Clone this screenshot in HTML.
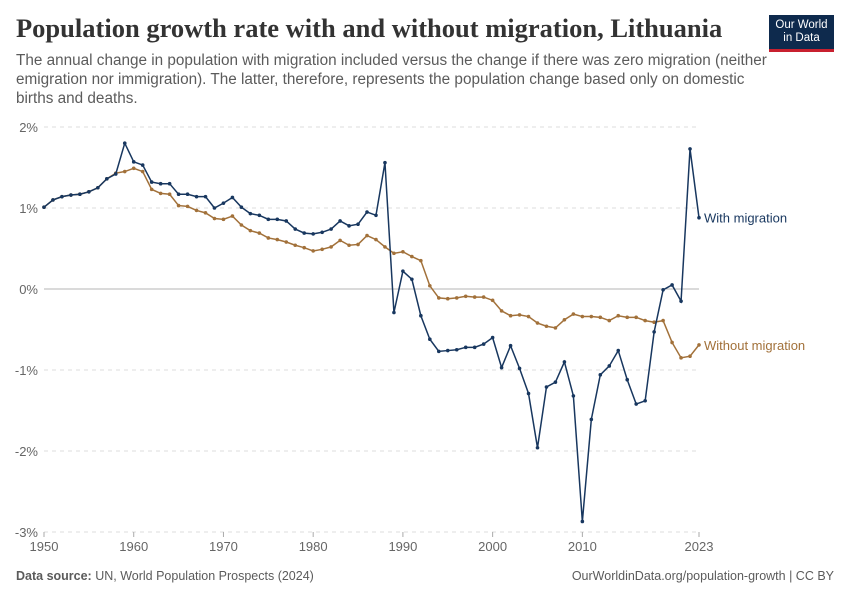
<!DOCTYPE html>
<html><head><meta charset="utf-8"><style>
body{margin:0;background:#fff;width:850px;height:600px;overflow:hidden;font-family:"Liberation Sans",sans-serif}
.title{position:absolute;left:16px;top:13px;font-family:"Liberation Serif",serif;font-size:26.5px;font-weight:bold;color:#333;white-space:nowrap}
.sub{position:absolute;left:16px;top:51px;width:760px;font-size:15.3px;line-height:19px;color:#5b5b5b}
.logo{position:absolute;left:769px;top:15px;width:65px;height:37px;background:#0e2a4d;color:#fff;font-size:11.5px;line-height:13px;text-align:center;padding-top:4px;box-sizing:border-box;border-bottom:3px solid #c8202f}
.foot{position:absolute;top:569px;font-size:12.5px;color:#5b5b5b}
</style></head><body>
<div class="title">Population growth rate with and without migration, Lithuania</div>
<div class="sub">The annual change in population with migration included versus the change if there was zero migration (neither emigration nor immigration). The latter, therefore, represents the population change based only on domestic births and deaths.</div>
<div class="logo">Our World<br>in Data</div>
<div class="foot" style="left:16px"><b>Data source:</b> UN, World Population Prospects (2024)</div>
<div class="foot" style="right:16px">OurWorldinData.org/population-growth | CC BY</div>
<svg id="chart" width="850" height="600" style="position:absolute;left:0;top:0"></svg>
<script>
const years=[];for(let y=1950;y<=2023;y++)years.push(y);
const withMig=[1.01,1.10,1.14,1.16,1.17,1.20,1.25,1.36,1.42,1.80,1.57,1.53,1.32,1.30,1.30,1.17,1.17,1.14,1.14,1.00,1.06,1.13,1.01,0.93,0.91,0.86,0.86,0.84,0.74,0.69,0.68,0.70,0.74,0.84,0.78,0.80,0.95,0.91,1.56,-0.29,0.22,0.12,-0.33,-0.62,-0.77,-0.76,-0.75,-0.72,-0.72,-0.68,-0.60,-0.97,-0.70,-0.98,-1.29,-1.96,-1.21,-1.15,-0.90,-1.32,-2.87,-1.61,-1.06,-0.95,-0.76,-1.12,-1.42,-1.38,-0.53,-0.01,0.05,-0.15,1.73,0.88];
const withoutMig=[1.01,1.10,1.14,1.16,1.17,1.20,1.25,1.36,1.43,1.45,1.49,1.45,1.23,1.18,1.17,1.03,1.02,0.97,0.94,0.87,0.86,0.90,0.79,0.72,0.69,0.63,0.61,0.58,0.54,0.51,0.47,0.49,0.52,0.60,0.54,0.55,0.66,0.61,0.52,0.44,0.46,0.40,0.35,0.04,-0.11,-0.12,-0.11,-0.09,-0.10,-0.10,-0.14,-0.27,-0.33,-0.32,-0.34,-0.42,-0.46,-0.48,-0.38,-0.31,-0.34,-0.34,-0.35,-0.39,-0.33,-0.35,-0.35,-0.39,-0.41,-0.39,-0.66,-0.85,-0.83,-0.69];
const yTicks=[2,1,0,-1,-2,-3];
const xTicks=[1950,1960,1970,1980,1990,2000,2010,2023];
const X=y=>44+(y-1950)*(655/73);
const Y=v=>289-v*81;
const svg=document.getElementById('chart');const NS='http://www.w3.org/2000/svg';
function mk(t,a,p){const e=document.createElementNS(NS,t);for(const k in a)e.setAttribute(k,a[k]);(p||svg).appendChild(e);return e;}
yTicks.forEach(v=>{
  const l=mk('line',{x1:44,x2:699,y1:Y(v),y2:Y(v),stroke:v===0?'#b5b5b5':'#dddddd','stroke-dasharray':v===0?'':'4,4'});
  
  
  const t=mk('text',{x:38,y:Y(v)+5,'text-anchor':'end','font-size':13,fill:'#666','font-family':'Liberation Sans'});
  t.textContent=v+'%';
  
  
});
xTicks.forEach(v=>{
  mk('line',{x1:X(v),x2:X(v),y1:532,y2:537,stroke:'#aaa'});
  const t=mk('text',{x:X(v),y:551,'text-anchor':'middle','font-size':13,fill:'#666','font-family':'Liberation Sans'});
  t.textContent=v;
  
  
});
function series(vals,color,name,label){
  const g=mk('g',{});
  
  
  mk('polyline',{points:vals.map((v,i)=>X(years[i])+','+Y(v)).join(' '),fill:'none',stroke:color,'stroke-width':1.5},g);
  vals.forEach((v,i)=>{const c=mk('circle',{cx:X(years[i]),cy:Y(v),r:1.8,fill:color},g);
    
    });
  const t=mk('text',{x:704,y:Y(vals[vals.length-1])+5,'font-size':13,fill:color,'font-family':'Liberation Sans'});
  t.textContent=label;
  
  
}
series(withoutMig,'#a2713a','without-migration-line','Without migration');
series(withMig,'#18375f','with-migration-line','With migration');
</script>
</body></html>
